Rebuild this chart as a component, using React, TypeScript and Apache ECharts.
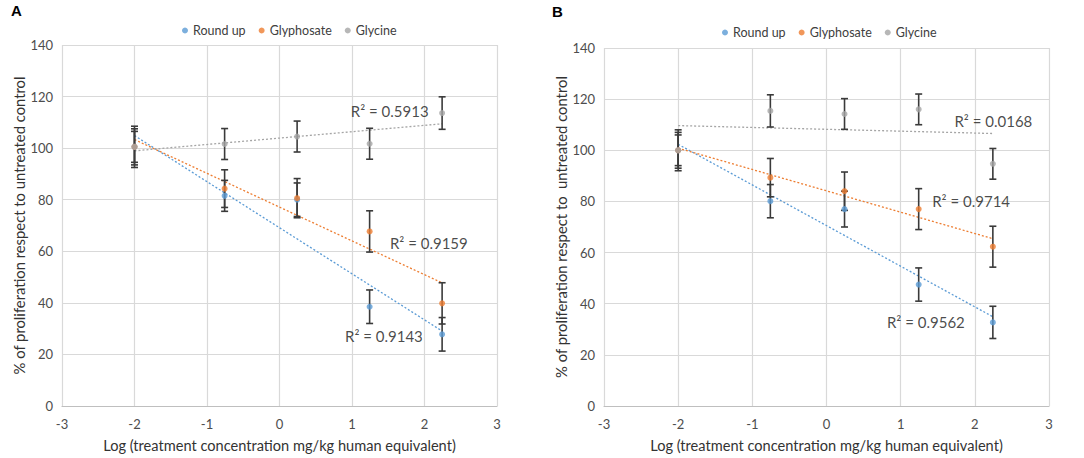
import React, { useEffect, useRef } from "react";
import * as echarts from "echarts";

const xLog = [-2, -0.757, 0.243, 1.243, 2.243];
const seriesNames = ["Round up", "Glyphosate", "Glycine"];
const seriesColors = ["#5B9BD5", "#ED7D31", "#A5A5A5"];
const xTicks = [-3, -2, -1, 0, 1, 2, 3];
const yTicks = [0, 20, 40, 60, 80, 100, 120, 140];

// Panel A
const aRoundUp = [100.5, 81.5, 80, 38.5, 27.8];
const aRoundUpErr = [6, 6, 6.5, 6.5, 6.5];
const aGlyphosate = [100.5, 84.3, 80.6, 67.7, 39.8];
const aGlyphosateErr = [8, 7.3, 7.6, 8, 8];
const aGlycine = [100.5, 101.6, 104.5, 101.7, 113.6];
const aGlycineErr = [7, 6, 6, 6, 6.3];
const aR2 = ["R² = 0.9143", "R² = 0.9159", "R² = 0.5913"];
const aR2At = [[1.44, 27], [2.06, 63.4], [1.52, 114.5]];

// Panel B
const bRoundUp = [100, 80.1, 77, 47.5, 32.7];
const bRoundUpErr = [6, 6.5, 7, 6.5, 6.3];
const bGlyphosate = [100, 89.3, 84, 77, 62.3];
const bGlyphosateErr = [8, 7.5, 7.5, 8, 8];
const bGlycine = [100, 115.4, 114.2, 116, 94.7];
const bGlycineErr = [7, 6.3, 6, 6, 6];
const bR2 = ["R² = 0.9562", "R² = 0.9714", "R² = 0.0168"];
const bR2At = [[1.34, 32.8], [1.95, 80.1], [2.25, 111.3]];

const FONT = "Lato";

function fit(xs: number[], ys: number[]) {
  const n = xs.length;
  const mx = xs.reduce((a, b) => a + b, 0) / n;
  const my = ys.reduce((a, b) => a + b, 0) / n;
  let sxy = 0, sxx = 0;
  for (let i = 0; i < n; i++) {
    sxy += (xs[i] - mx) * (ys[i] - my);
    sxx += (xs[i] - mx) ** 2;
  }
  const m = sxy / sxx;
  const b = my - m * mx;
  const x0 = xs[0], x1 = xs[n - 1];
  return [[x0, m * x0 + b], [x1, m * x1 + b]];
}

function errRender(params: any, api: any) {
  const x = api.value(0), y = api.value(1), e = api.value(2);
  const top = api.coord([x, y + e]);
  const bot = api.coord([x, y - e]);
  const h = 3.5;
  const style = { stroke: "#3a3a3a", lineWidth: 1.6 };
  return {
    type: "group",
    children: [
      { type: "line", shape: { x1: top[0], y1: top[1], x2: bot[0], y2: bot[1] }, style },
      { type: "line", shape: { x1: top[0] - h, y1: top[1], x2: top[0] + h, y2: top[1] }, style },
      { type: "line", shape: { x1: bot[0] - h, y1: bot[1], x2: bot[0] + h, y2: bot[1] }, style },
    ],
  };
}

function panelSeries(idx: number, vals: number[][], errs: number[][], r2: string[], r2At: number[][]) {
  const out: any[] = [];
  vals.forEach((v, i) => {
    out.push({
      type: "scatter",
      name: seriesNames[i],
      xAxisIndex: idx,
      yAxisIndex: idx,
      symbol: "circle",
      symbolSize: 6,
      z: 5,
      itemStyle: { color: seriesColors[i] },
      data: xLog.map((x, j) => [x, v[j]]),
    });
  });
  vals.forEach((v, i) => {
    out.push({
      type: "line",
      name: seriesNames[i] + " trend",
      xAxisIndex: idx,
      yAxisIndex: idx,
      showSymbol: false,
      silent: true,
      z: 2,
      itemStyle: { color: seriesColors[i] },
      lineStyle: { color: seriesColors[i], width: 1.3, type: [2, 2] },
      data: fit(xLog, v),
    });
  });
  vals.forEach((v, i) => {
    out.push({
      type: "custom",
      name: seriesNames[i] + " error",
      xAxisIndex: idx,
      yAxisIndex: idx,
      z: 3,
      renderItem: errRender,
      encode: { x: 0, y: 1 },
      data: xLog.map((x, j) => [x, v[j], errs[i][j]]),
    });
  });
  out.push({
    type: "scatter",
    name: "r2-" + idx,
    xAxisIndex: idx,
    yAxisIndex: idx,
    symbolSize: 1,
    itemStyle: { color: "rgba(0,0,0,0)" },
    silent: true,
    z: 6,
    label: {
      show: true,
      position: "inside",
      formatter: (p: any) => r2[p.dataIndex],
      color: "#1a1a1a",
      fontSize: 15,
      fontFamily: FONT,
    },
    data: r2At,
  });
  return out;
}

function axisPair(gridIndex: number, yNameGap: number, yName: string) {
  const x = {
    type: "value",
    gridIndex,
    min: xTicks[0],
    max: xTicks[xTicks.length - 1],
    interval: 1,
    axisLine: { show: true, onZero: false, lineStyle: { color: "#bfbfbf", width: 1.2 } },
    axisTick: { show: false },
    splitLine: { show: true, lineStyle: { color: "#d9d9d9", width: 1.2 } },
    axisLabel: { color: "#4d4d4d", fontSize: 13, fontFamily: FONT, margin: 11 },
    name: "Log (treatment concentration mg/kg human equivalent)",
    nameLocation: "middle",
    nameGap: 32,
    nameTextStyle: { color: "#333333", fontSize: 14.6, fontFamily: FONT },
  };
  const y = {
    type: "value",
    gridIndex,
    min: yTicks[0],
    max: yTicks[yTicks.length - 1],
    interval: 20,
    axisLine: { show: false },
    axisTick: { show: false },
    splitLine: { show: true, lineStyle: { color: "#d9d9d9", width: 1.2 } },
    axisLabel: { color: "#4d4d4d", fontSize: 13, fontFamily: FONT, margin: 9 },
    name: yName,
    nameLocation: "middle",
    nameGap: yNameGap,
    nameTextStyle: { color: "#333333", fontSize: 14.8, fontFamily: FONT },
  };
  return { x, y };
}

export default function App() {
  const ref = useRef<HTMLDivElement>(null);
  useEffect(() => {
    if (!ref.current) return;
    const chart = echarts.init(ref.current, undefined, { renderer: "svg" });
    const a = axisPair(0, 36, "% of proliferation respect to untreated control");
    const b = axisPair(1, 35, "% of proliferation respect to  untreated control");
    const legendBase = {
      data: seriesNames.map((n) => ({ name: n, icon: "circle" })),
      itemWidth: 6,
      itemHeight: 6,
      itemGap: 13,
      textStyle: { color: "#404040", fontSize: 12.5, fontFamily: FONT },
      selectedMode: false,
    };
    chart.setOption({
      animation: false,
      backgroundColor: "#ffffff",
      graphic: [
        { type: "text", left: 11, top: 3, style: { text: "A", fontSize: 15, fontWeight: "bold", fontFamily: "Liberation Sans", fill: "#000" } },
        { type: "text", left: 552, top: 4, style: { text: "B", fontSize: 15, fontWeight: "bold", fontFamily: "Liberation Sans", fill: "#000" } },
      ],
      legend: [
        { ...legendBase, left: 177, top: 19 },
        { ...legendBase, left: 717, top: 21 },
      ],
      grid: [
        { left: 62, top: 45, width: 435, height: 362 },
        { left: 604, top: 48, width: 445, height: 364 },
      ],
      xAxis: [a.x, b.x],
      yAxis: [a.y, b.y],
      series: [
        ...panelSeries(0, [aRoundUp, aGlyphosate, aGlycine], [aRoundUpErr, aGlyphosateErr, aGlycineErr], aR2, aR2At),
        ...panelSeries(1, [bRoundUp, bGlyphosate, bGlycine], [bRoundUpErr, bGlyphosateErr, bGlycineErr], bR2, bR2At),
      ],
    });
    return () => chart.dispose();
  }, []);
  return (
    <div
      ref={ref}
      style={{ position: "fixed", left: 0, top: 0, width: 1084, height: 458, background: "#fff" }}
    />
  );
}
